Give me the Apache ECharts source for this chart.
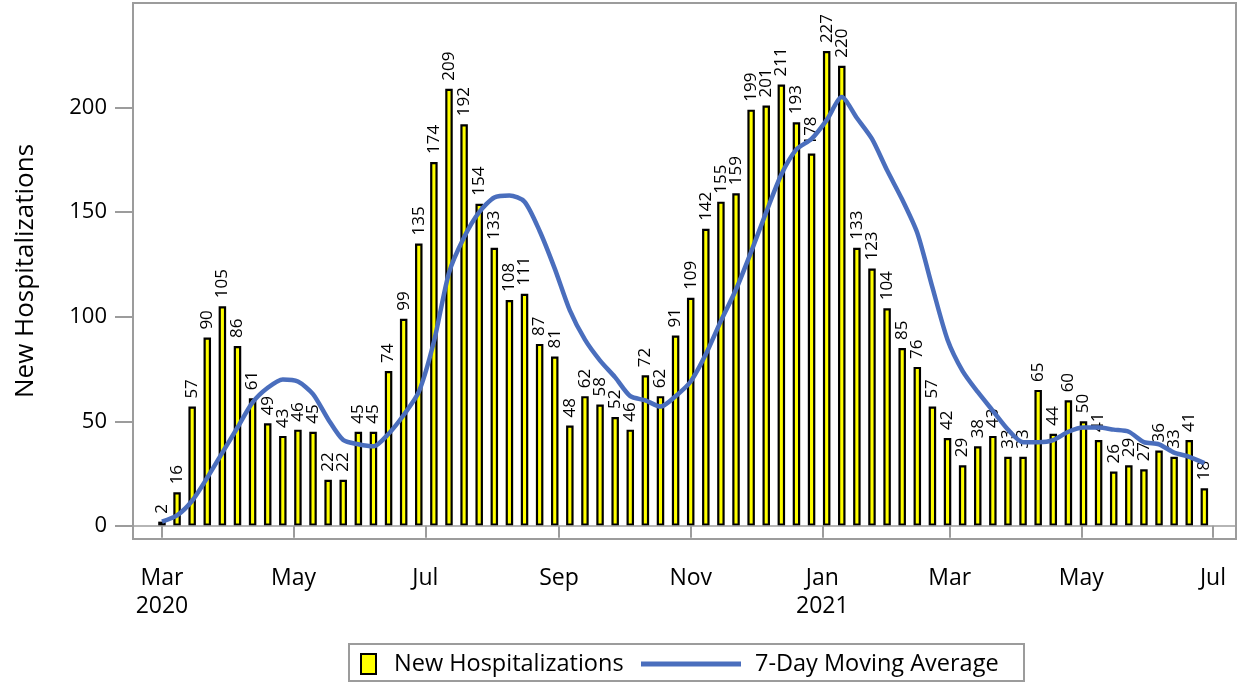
<!DOCTYPE html>
<html><head><meta charset="utf-8">
<script src="https://cdn.jsdelivr.net/npm/echarts@6/dist/echarts.min.js"></script>
<style>html,body{margin:0;padding:0;background:#fff}#c{width:1243px;height:684px}</style>
</head><body><div id="c"></div>
<script>
// weekly data, first week starting 2020-03-01
const firstWeek = [2020, 2, 1];
const newHospitalizations = [2,16,57,90,105,86,61,49,43,46,45,22,22,45,45,74,99,135,174,209,
  192,154,133,108,111,87,81,48,62,58,52,46,72,62,91,109,142,155,159,199,
  201,211,193,178,227,220,133,123,104,85,76,57,42,29,38,43,33,33,65,44,
  60,50,41,26,29,27,36,33,41,18];
const movingAverage = [2,5,12,23,35,47,59,66,70,69,63,51,41,39,38,44,53,64,88,121,
  138,150,157,158,155,141,123,103,89,79,71,62,60,57,62,69,82,98,113,131,
  150,168,180,185,194,205,195,185,170,156,140,114,89,74,64,55,46,40,40,41,
  45,47,47,46,45,40,39,35,33,30];
const xTickDates = [[2020,2,1],[2020,4,1],[2020,6,1],[2020,8,1],[2020,10,1],[2021,0,1],[2021,2,1],[2021,4,1],[2021,6,1]];
const monthNames = ['Jan','Feb','Mar','Apr','May','Jun','Jul','Aug','Sep','Oct','Nov','Dec'];
const yTicks = [0,50,100,150,200];
const seriesNames = ['New Hospitalizations','7-Day Moving Average'];

const FONT = 'Open Sans';
const weeks = newHospitalizations.map((v,i)=> new Date(firstWeek[0], firstWeek[1], firstWeek[2] + 7*i).getTime());
const barData = weeks.map((t,i)=>[t, newHospitalizations[i]]);
const lineData = weeks.map((t,i)=>[t, movingAverage[i]]);
const xTicks = xTickDates.map(d=>new Date(d[0],d[1],d[2]).getTime());

const chart = echarts.init(document.getElementById('c'));
chart.setOption({
  animation:false,
  textStyle:{fontFamily:FONT},
  grid:{left:133,right:7,top:3,bottom:145,show:true,borderColor:'#9c9c9c',borderWidth:2,backgroundColor:'transparent'},
  xAxis:{
    type:'value',
    min:new Date(2020,1,16,14).getTime(),
    max:new Date(2021,6,11,16).getTime(),
    axisLine:{show:false},
    splitLine:{show:false},
    axisTick:{show:true,length:12,lineStyle:{color:'#9c9c9c',width:2},customValues:xTicks},
    axisLabel:{customValues:xTicks,fontSize:23,color:'#000',lineHeight:28,margin:25,fontFamily:FONT,
      formatter:function(v){const d=new Date(v);let s=monthNames[d.getMonth()];
        if((d.getFullYear()===2020&&d.getMonth()===2)||(d.getFullYear()===2021&&d.getMonth()===0)) s+='\n'+d.getFullYear();
        return s;}}
  },
  yAxis:{
    type:'value',min:-6.3,max:250,
    name:'New Hospitalizations',nameLocation:'middle',nameGap:94,
    nameTextStyle:{fontSize:26,color:'#000',fontFamily:FONT},
    axisLine:{show:false},
    splitLine:{show:false},
    axisTick:{show:true,length:18,lineStyle:{color:'#9c9c9c',width:2},customValues:yTicks},
    axisLabel:{customValues:yTicks,fontSize:22,color:'#000',margin:26,fontFamily:FONT}
  },
  legend:[
    {data:[{name:seriesNames[0],icon:'rect'}],left:360,top:652,padding:0,itemWidth:15,itemHeight:20,
     textStyle:{fontSize:23.5,color:'#000',fontFamily:FONT,padding:[0,0,0,13]},selectedMode:false},
    {data:[{name:seriesNames[1],icon:'path://M0,0H100V5H0Z'}],left:641,top:652,padding:0,itemWidth:100,itemHeight:20,
     textStyle:{fontSize:23.5,color:'#000',fontFamily:FONT,padding:[0,0,0,9]},selectedMode:false}
  ],
  graphic:[{type:'rect',shape:{x:349,y:644,width:675,height:37},style:{fill:'none',stroke:'#9c9c9c',lineWidth:2},silent:true}],
  series:[
    {name:seriesNames[0],type:'bar',data:barData,barWidth:7.5,
     itemStyle:{color:'#ffff00',borderColor:'#000',borderWidth:2.2},
     label:{show:true,position:'top',rotate:90,align:'left',verticalAlign:'middle',distance:8,fontSize:17,color:'#000',fontFamily:FONT},
     markLine:{silent:true,symbol:'none',label:{show:false},lineStyle:{color:'#9c9c9c',width:1.5,type:'solid'},data:[{yAxis:0}]},
     z:2},
    {name:seriesNames[1],type:'line',data:lineData,showSymbol:false,symbol:'none',smooth:0.25,
     lineStyle:{color:'#4a6ebd',width:4.5},itemStyle:{color:'#4a6ebd'},z:3}
  ]
});
</script></body></html>
